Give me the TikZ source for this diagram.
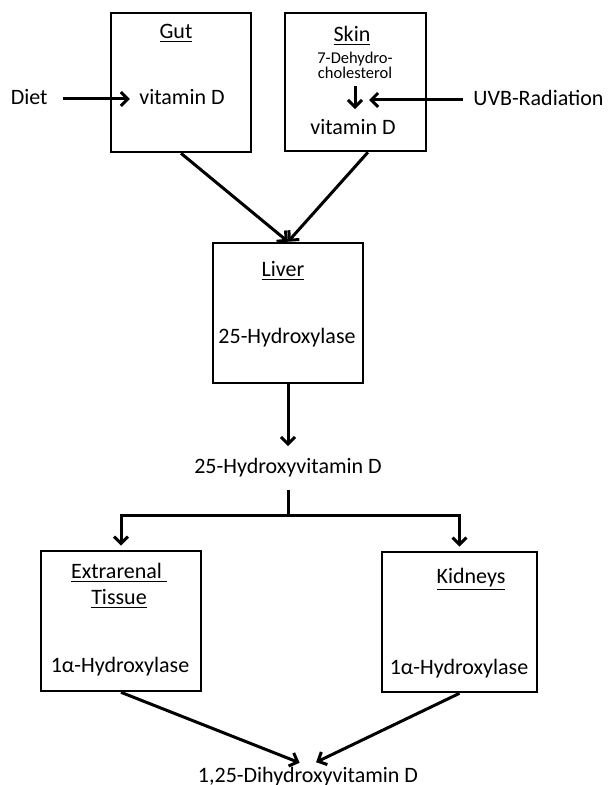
\documentclass[tikz,border=0pt]{standalone}
\usepackage{fontspec}
\setmainfont{Carlito}
\usetikzlibrary{arrows.meta, positioning}

\begin{document}
\begin{tikzpicture}[x=0.5pt, y=-0.5pt,
  box/.style={draw, line width=1.3pt, inner sep=0pt},
  lbl/.style={inner sep=0pt, font=\fontsize{11}{13}\selectfont, text height=8pt, text depth=2.5pt},
  sml/.style={inner sep=0pt, font=\fontsize{8.25}{7.6}\selectfont, align=center},
  arr/.style={-{Straight Barb[length=3.5pt, width=7pt]}, line width=1.5pt},
  ln/.style={line width=1.5pt}
]
\useasboundingbox (0,0) rectangle (607,785);
% top row
\node[box, minimum width=70pt, minimum height=69.5pt] (gut) at (181,82.5) {};
\node[box, minimum width=70.5pt, minimum height=69pt] (skin) at (355.5,82) {};
\node[lbl] (gutname) at (176,33) {\underline{Gut}};
\node[lbl] (gutvit) at (182,99) {vitamin D};
\node[lbl, left=45.5pt of gutvit] (diet) {Diet};
\node[lbl] (skinname) at (352,36) {\underline{Skin}};
\node[sml] (chol) at (355,65) {7-Dehydro-\\cholesterol};
\node[lbl] (skinvit) at (353,129) {vitamin D};
\node[lbl] (uvb) at (538.5,100) {UVB-Radiation};
\coordinate (uvbhit) at (369,100);
% liver
\node[box, minimum width=75pt, minimum height=70pt] (liver) at (288,313) {};
\node[lbl] (livername) at (283,271) {\underline{Liver}};
\node[lbl] (liverenz) at (287,338) {25-Hydroxylase};
\node[lbl, inner sep=5.5pt] (hyd) at (288,468) {25-Hydroxyvitamin D};
\coordinate (split) at (288,515);
% bottom row
\node[box, minimum width=80pt, minimum height=70pt] (extra) at (121,621) {};
\node[box, minimum width=77.5pt, minimum height=70pt] (kid) at (459.5,622) {};
\node[inner sep=0pt, font=\fontsize{11}{13}\selectfont, align=center] (extraname) at (119,586)
  {\underline{Extrarenal\ }\\\underline{Tissue}};
\node[lbl] (extraenz) at (120,667) {1α-Hydroxylase};
\node[lbl] (kidname) at (471,578) {\underline{Kidneys}};
\node[lbl] (kidenz) at (459,669) {1α-Hydroxylase};
\node[lbl] (calcitriol) at (308,777) {1,25-Dihydroxyvitamin D};

\draw[arr, shorten <=7.5pt, shorten >=4.5pt] (diet) -- (gutvit);
\draw[arr, shorten <=3.5pt, shorten >=4.5pt] (chol.south) -- (chol.south |- skinvit.north);
\draw[arr, shorten <=5pt] (uvb) -- (uvbhit);
\draw[arr] (gut.south) -- (liver.north);
\draw[arr] (skin.-80) -- (liver.north);
\draw[arr] (liver.south) -- (hyd.north);
\draw[ln] (hyd.south) -- (split);
\draw[arr, shorten >=2pt] (split) -| (extra.north);
\draw[arr, shorten >=2pt] (split) -| (kid.north);
\draw[arr, shorten >=4.5pt] (extra.south) -- (calcitriol.north);
\draw[arr, shorten >=4.5pt] (kid.south) -- (calcitriol.north);
\end{tikzpicture}
\end{document}
